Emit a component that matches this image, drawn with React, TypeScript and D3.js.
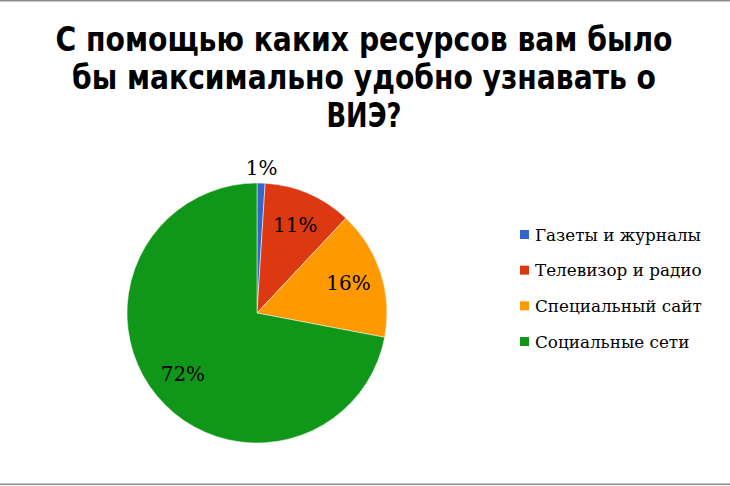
import React from "react";
import * as d3 from "d3";

const titleLines = [
  "С помощью каких ресурсов вам было",
  "бы максимально удобно узнавать о",
  "ВИЭ?",
];
const categories = ["Газеты и журналы", "Телевизор и радио", "Специальный сайт", "Социальные сети"];
const shares = [1, 11, 16, 72];
const colors = ["#3366cc", "#dc3912", "#ff9900", "#109618"];

const width = 730;
const height = 486;
const cx = 257;
const cy = 313;
const radius = 130;

function App() {
  const svgRef = React.useRef(null);

  React.useEffect(() => {
    const svg = d3.select(svgRef.current);
    svg.selectAll("*").remove();

    svg.append("rect").attr("width", width).attr("height", height).attr("fill", "#fff");
    svg.append("rect").attr("x", 0).attr("y", 0).attr("width", width).attr("height", 1.5).attr("fill", "#8c8c8c");
    svg.append("rect").attr("x", 0).attr("y", 483.5).attr("width", width).attr("height", 1.5).attr("fill", "#8c8c8c");

    // title, squeezed to the reference widths
    const titleWidths = [617, 584, 75];
    svg
      .append("g")
      .selectAll("text")
      .data(titleLines)
      .join("text")
      .attr("x", 364)
      .attr("y", (d, i) => 51 + i * 38)
      .attr("text-anchor", "middle")
      .attr("font-family", "'DejaVu Sans Condensed', 'Liberation Sans', sans-serif")
      .attr("font-weight", "bold")
      .attr("font-size", 33)
      .attr("fill", "#000")
      .attr("textLength", (d, i) => titleWidths[i])
      .attr("lengthAdjust", "spacingAndGlyphs")
      .text(d => d);

    const pie = d3.pie().sort(null).value(d => d);
    const arcs = pie(shares);
    const arc = d3.arc().innerRadius(0).outerRadius(radius);
    const labelArc = d3.arc().innerRadius(radius * 0.74).outerRadius(radius * 0.74);
    const outerArc = d3.arc().innerRadius(radius + 15).outerRadius(radius + 15);

    const g = svg.append("g").attr("transform", `translate(${cx},${cy})`);
    g.selectAll("path")
      .data(arcs)
      .join("path")
      .attr("d", arc)
      .attr("fill", (d, i) => colors[i])
      .attr("stroke", "#fff")
      .attr("stroke-width", 0.5);

    g.selectAll("text")
      .data(arcs)
      .join("text")
      .attr("transform", d => {
        const [x, y] = d.data < 5 ? outerArc.centroid(d) : labelArc.centroid(d);
        return `translate(${x},${y})`;
      })
      .attr("text-anchor", "middle")
      .attr("dy", "0.35em")
      .attr("font-family", "'DejaVu Serif', serif")
      .attr("font-size", 20)
      .attr("fill", "#000")
      .text(d => `${d.data}%`);

    // legend
    const legendY = d3.scalePoint().domain(categories).range([235, 342]);
    const items = svg
      .append("g")
      .selectAll("g")
      .data(categories)
      .join("g")
      .attr("transform", d => `translate(520,${legendY(d)})`);
    items
      .append("rect")
      .attr("x", 0)
      .attr("y", -5)
      .attr("width", 9)
      .attr("height", 9)
      .attr("fill", (d, i) => colors[i]);
    items
      .append("text")
      .attr("x", 15)
      .attr("y", 5.5)
      .attr("font-family", "'DejaVu Serif', serif")
      .attr("font-size", 16.8)
      .attr("fill", "#000")
      .text(d => d);
  }, []);

  return (
    <svg
      ref={svgRef}
      width={width}
      height={height}
      style={{ position: "absolute", left: 0, top: 0 }}
    />
  );
}

export default App;
